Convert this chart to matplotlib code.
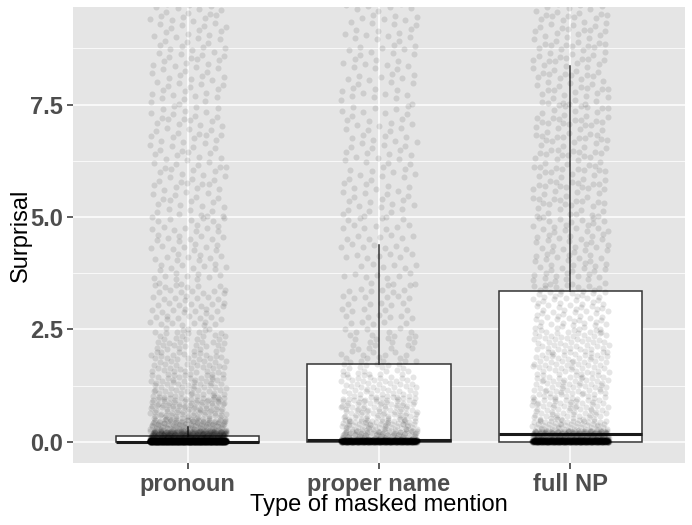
import numpy as np
import matplotlib
matplotlib.use("Agg")
import matplotlib.pyplot as plt
from matplotlib.ticker import MultipleLocator

# ---- data ----
categories = ["pronoun", "proper name", "full NP"]

# box statistics: q1, median, q3, whisker low, whisker high
box_q1 = [0.0, 0.0, 0.0]
box_med = [0.0, 0.05, 0.18]
box_q3 = [0.13, 1.73, 3.35]
box_whislo = [0.0, 0.0, 0.0]
box_whishi = [0.33, 4.38, 8.36]

# point counts per surprisal bin (estimated density of the jittered points)
bin_edges = [0.0, 0.04, 0.25, 0.5, 1.0, 1.5, 2.0, 2.5, 3.5, 5.0, 7.5, 9.8]
counts_pronoun = [2400, 300, 100, 100, 60, 48, 38, 58, 62, 98, 88]
counts_proper = [1000, 90, 65, 85, 50, 32, 24, 38, 48, 82, 72]
counts_fullnp = [1000, 200, 55, 70, 60, 55, 50, 80, 80, 130, 110]
counts_all = [counts_pronoun, counts_proper, counts_fullnp]

y_ticks = [0.0, 2.5, 5.0, 7.5]

# ---- figure ----
plt.rcParams["font.family"] = ["Liberation Sans", "DejaVu Sans"]
fig = plt.figure(figsize=(6.92, 5.25), dpi=100)
ax = fig.add_axes([0.1055, 0.118, 0.8845, 0.8687])
ax.set_facecolor("#E5E5E5")
ax.set_xlim(0.4, 3.6)
ax.set_ylim(-0.47, 9.67)

# grid
ax.yaxis.set_major_locator(MultipleLocator(2.5))
ax.yaxis.set_minor_locator(MultipleLocator(1.25))
ax.grid(which="major", color="white", linewidth=1.1)
ax.grid(which="minor", axis="y", color="white", linewidth=0.55)
ax.set_axisbelow(True)
for s in ax.spines.values():
    s.set_visible(False)

# boxes
stats = []
for i in range(3):
    stats.append(dict(q1=box_q1[i], med=box_med[i], q3=box_q3[i],
                      whislo=box_whislo[i], whishi=box_whishi[i],
                      fliers=[], label=categories[i]))
ax.bxp(stats, positions=[1, 2, 3], widths=0.75, showcaps=False,
       showfliers=False, patch_artist=True,
       boxprops=dict(facecolor="white", edgecolor="#333333", linewidth=1.1),
       medianprops=dict(color="#1A1A1A", linewidth=2.2),
       whiskerprops=dict(color="#333333", linewidth=1.1),
       zorder=2)

# jittered points (deterministic 2-D low-discrepancy jitter within each bin)
g = 1.32471795724474602596
a1, a2 = 1.0 / g, 1.0 / (g * g)
for ci, counts in enumerate(counts_all):
    xs, ys = [], []
    for b, n in enumerate(counts):
        lo, hi = bin_edges[b], bin_edges[b + 1]
        s0 = 0.5 + 0.137 * b + 0.29 * ci
        for j in range(n):
            u = (s0 + j * a1) % 1.0
            v = (s0 + j * a2) % 1.0
            xs.append(ci + 1 + (u * 2 - 1) * 0.2)
            ys.append(lo + (hi - lo) * v)
    ax.scatter(xs, ys, s=19, color="black", alpha=0.1, linewidths=0, zorder=3)

ax.set_xticks([1, 2, 3])
ax.set_xticklabels(categories)
ax.set_yticks(y_ticks)
ax.set_yticklabels([f"{t:.1f}" for t in y_ticks])
ax.tick_params(axis="both", which="major", length=4, width=1.1, color="#333333",
               labelsize=17, labelcolor="#4D4D4D", pad=3)
ax.tick_params(axis="y", which="minor", length=0)
for lab in ax.get_xticklabels() + ax.get_yticklabels():
    lab.set_fontweight("bold")

ax.set_xlabel("Type of masked mention", fontsize=17, color="black", labelpad=-1)
ax.set_ylabel("Surprisal", fontsize=17, color="black", labelpad=-1)

fig.savefig("out.png", dpi=100)
